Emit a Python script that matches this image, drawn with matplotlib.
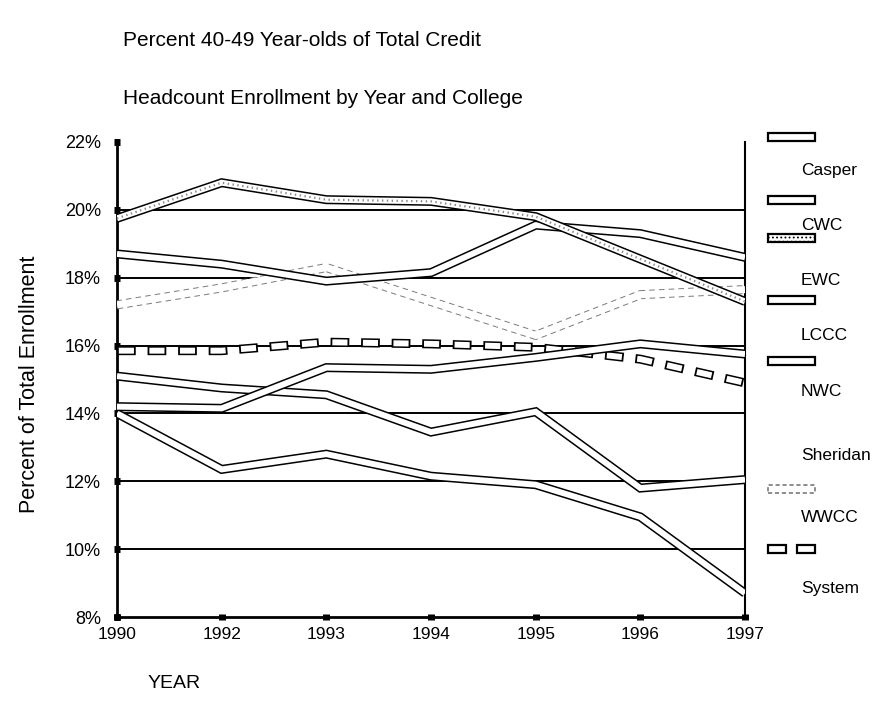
import matplotlib
matplotlib.use('Agg')
import matplotlib.pyplot as plt
import matplotlib.patheffects as pe
from matplotlib.patches import Rectangle

plt.rcParams['font.family'] = ['Liberation Sans', 'DejaVu Sans']
plt.rcParams['lines.scale_dashes'] = False
plt.rcParams['hatch.linewidth'] = 0.8

years = ['1990', '1992', '1993', '1994', '1995', '1996', '1997']
casper = [18.7, 18.4, 17.9, 18.15, 19.55, 19.3, 18.6]
cwc = [15.1, 14.75, 14.55, 13.45, 14.05, 11.8, 12.05]
ewc = [19.75, 20.8, 20.3, 20.25, 19.8, 18.55, 17.3]
lccc = [14.2, 14.15, 15.35, 15.3, 15.65, 16.05, 15.75]
nwc = [14.0, 12.35, 12.8, 12.15, 11.9, 10.95, 8.7]
wwcc = [17.2, 17.7, 18.3, 17.3, 16.3, 17.5, 17.65]
system = [15.85, 15.85, 16.1, 16.05, 15.95, 15.6, 14.9]
yticks = [8, 10, 12, 14, 16, 18, 20, 22]

W, H = 894, 716
fig = plt.figure(figsize=(W / 100, H / 100), dpi=100)
ax = fig.add_axes([117 / W, 1 - 617 / H, 628 / W, 475 / H])

x = list(range(len(years)))
OUT, INN = 6.5, 4.3


def outlined(xs, ys, kind='plain', z=3):
    # double-line look of the scanned chart: dark edge, light core
    kw = dict(solid_capstyle='butt', dash_capstyle='butt', solid_joinstyle='miter', zorder=z)
    if kind in ('plain', 'texture'):
        ax.plot(xs, ys, color='white', lw=INN,
                path_effects=[pe.Stroke(linewidth=OUT, foreground='black'), pe.Normal()], **kw)
        if kind == 'texture':
            ax.plot(xs, ys, color='#8a8a8a', lw=1.6, ls=(0, (1, 2.5)), **kw)
    elif kind == 'light':
        ax.plot(xs, ys, color='#7a7a7a', lw=OUT, ls=(0, (4, 3)), **kw)
        ax.plot(xs, ys, color='white', lw=OUT - 1.4, **kw)
    elif kind == 'boxes':
        ax.plot(xs, ys, color='black', lw=OUT, ls=(0, (13.5, 8.5)), **kw)
        ax.plot(xs, ys, color='white', lw=INN, ls=(20.7, (10.9, 11.1)), **kw)


series = [
    ('Casper', casper, 'plain'),
    ('CWC', cwc, 'plain'),
    ('EWC', ewc, 'texture'),
    ('LCCC', lccc, 'plain'),
    ('NWC', nwc, 'plain'),
    ('Sheridan', None, 'none'),
    ('WWCC', wwcc, 'light'),
    ('System', system, 'boxes'),
]

draw_order = ['WWCC', 'System', 'NWC', 'CWC', 'LCCC', 'Casper', 'EWC']
for z, name in enumerate(draw_order):
    for n, vals, kind in series:
        if n == name:
            outlined(x, vals, kind=kind, z=3 + z)

for v in yticks[1:-1]:
    ax.axhline(v, color='black', lw=1.4, zorder=2)

ax.set_xlim(0, len(years) - 1)
ax.set_ylim(8, 22)
ax.set_xticks(x)
ax.set_xticklabels(years, fontsize=12.5)
ax.set_yticks(yticks)
ax.set_yticklabels([f'{v}%' for v in yticks], fontsize=13)
ax.tick_params(direction='inout', length=5, width=5)
ax.tick_params(axis='y', pad=9)
ax.tick_params(axis='x', pad=5)
ax.spines['top'].set_visible(False)
for s in ['left', 'bottom']:
    ax.spines[s].set_linewidth(2)
ax.spines['right'].set_linewidth(1.5)

fig.text(123 / W, 1 - 41 / H, 'Percent 40-49 Year-olds of Total Credit', fontsize=15, va='center', ha='left')
fig.text(123 / W, 1 - 99 / H, 'Headcount Enrollment by Year and College', fontsize=15, va='center', ha='left')
fig.text(30 / W, 1 - 384 / H, 'Percent of Total Enrollment', rotation=90, fontsize=15.5,
         va='center', ha='center')
fig.text(148 / W, 1 - 683 / H, 'YEAR', fontsize=14, va='center', ha='left')

# legend: sample box above each label, as in the original
sample_y = [137, 200, 238, 300, 361, 424, 489, 549]
label_y = [170, 225, 281, 336, 392, 456, 517, 588]
sw, sh = 47, 8
for (name, vals, kind), sy, ly in zip(series, sample_y, label_y):
    box = dict(transform=fig.transFigure, facecolor='white', zorder=5)
    if kind in ('plain', 'texture'):
        fig.patches.append(Rectangle((768 / W, 1 - (sy + sh / 2) / H), sw / W, sh / H,
                                     edgecolor='black', lw=1.6,
                                     hatch='....' if kind == 'texture' else None, **box))
    elif kind == 'light':
        fig.patches.append(Rectangle((768 / W, 1 - (sy + sh / 2) / H), sw / W, sh / H,
                                     edgecolor='#7a7a7a', lw=1.2, ls=(0, (3, 2)), **box))
    elif kind == 'boxes':
        for bx in (768, 797):
            fig.patches.append(Rectangle((bx / W, 1 - (sy + sh / 2) / H), 18 / W, sh / H,
                                         edgecolor='black', lw=1.6, **box))
    fig.text(801 / W, 1 - ly / H, name, fontsize=12.5, va='center', ha='left')

fig.savefig('out.png', dpi=100)
